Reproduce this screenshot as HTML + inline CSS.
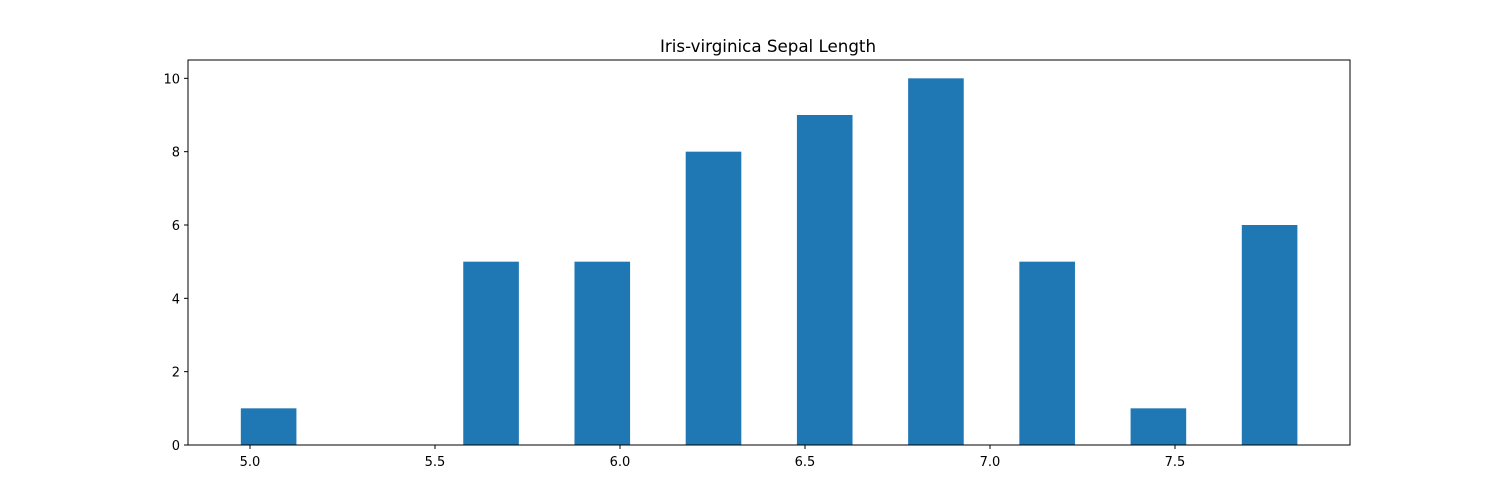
<!DOCTYPE html>
<html><head><meta charset="utf-8"><style>
body{margin:0;background:#fff;font-family:"DejaVu Sans","Liberation Sans",sans-serif}
</style></head><body>
<svg id="chart" width="1500" height="500" xmlns="http://www.w3.org/2000/svg" font-family="DejaVu Sans, Liberation Sans, sans-serif">
<text x="768" y="52" text-anchor="middle" font-size="16.7">Iris-virginica Sepal Length</text>
<g id="bars"></g>
<g id="axes"></g>
</svg>
<script>
const binStarts=[4.9,5.2,5.5,5.8,6.1,6.4,6.7,7.0,7.3,7.6];
const counts=[1,0,5,5,8,9,10,5,1,6];
const binWidth=0.3006;
const xTicks=[5.0,5.5,6.0,6.5,7.0,7.5];
const xTickLabels=["5.0","5.5","6.0","6.5","7.0","7.5"];
const yTicks=[0,2,4,6,8,10];
const L=188,R=1350,T=60,B=445;
const xmin=4.8324,xmax=7.973,ymax=10.5;
const X=v=>L+(v-xmin)/(xmax-xmin)*(R-L);
const Y=v=>B-v/ymax*(B-T);
const NS="http://www.w3.org/2000/svg";
const bars=document.getElementById('bars'),axes=document.getElementById('axes');
function mk(t,a,p){const e=document.createElementNS(NS,t);for(const k in a)e.setAttribute(k,a[k]);p.appendChild(e);return e;}
counts.forEach((c,i)=>{
 const st=4.9+(binStarts[i]-4.9)/0.3*binWidth;
 const s=st+binWidth*0.25,e=st+binWidth*0.75;
 const r=mk('rect',{x:X(s),y:Y(c),width:X(e)-X(s),height:Y(0)-Y(c),fill:'#1f77b4'},bars);
 
 
});
const frame=mk('rect',{x:L,y:T,width:R-L,height:B-T,fill:'none',stroke:'#000','stroke-width':1},axes);


xTicks.forEach((v,i)=>{
 mk('line',{x1:X(v),x2:X(v),y1:B,y2:B+4,stroke:'#000'},axes);
 const t=mk('text',{x:X(v),y:B+21,'text-anchor':'middle','font-size':13},axes);
 t.textContent=xTickLabels[i];
 
 
});
yTicks.forEach(v=>{
 mk('line',{x1:L-4,x2:L,y1:Y(v),y2:Y(v),stroke:'#000'},axes);
 const t=mk('text',{x:L-8,y:Y(v)+5,'text-anchor':'end','font-size':13},axes);
 t.textContent=String(v);
 
 
});
</script>
</body></html>
